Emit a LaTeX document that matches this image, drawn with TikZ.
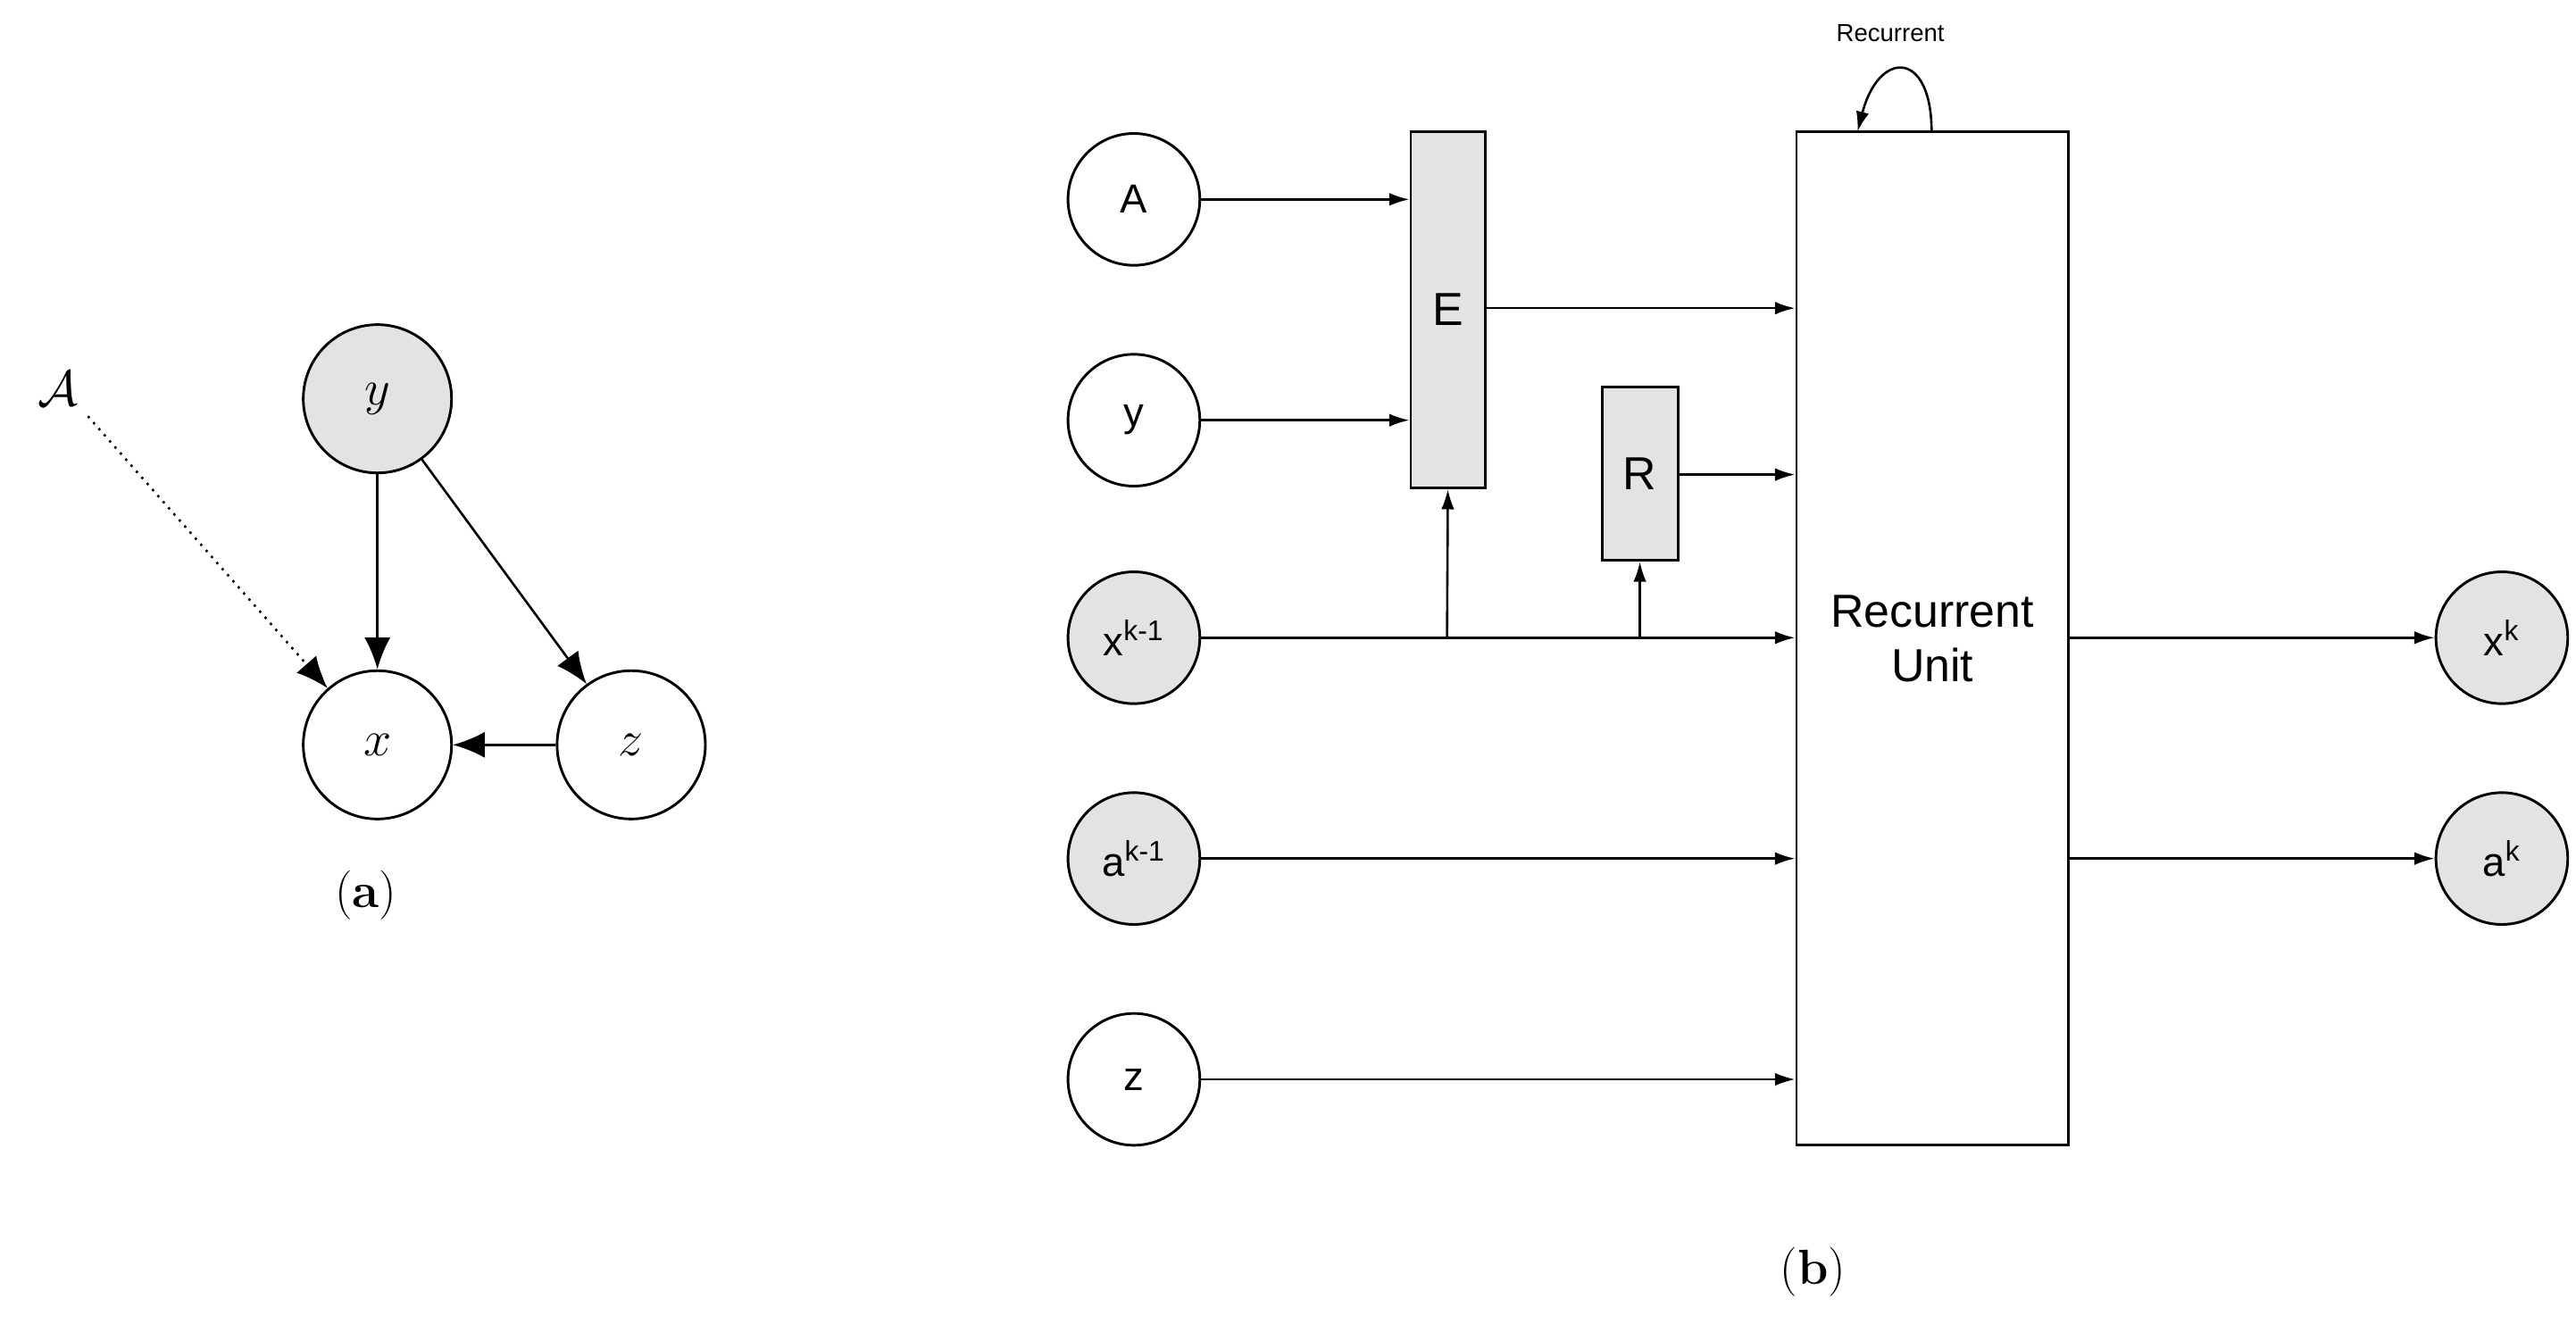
\documentclass[tikz,border=0pt]{standalone}
\usepackage{fontspec}
\newfontfamily\sans{Liberation Sans}
\usetikzlibrary{arrows.meta}
\begin{document}
\begin{tikzpicture}[x=0.02cm,y=-0.02cm,
  ca/.style={circle,draw,line width=0.9pt,minimum size=1.8cm,inner sep=0pt,font=\fontsize{17}{20}\selectfont},
  cb/.style={circle,draw,line width=0.9pt,minimum size=1.6cm,inner sep=0pt,font=\sans\fontsize{14}{16}\selectfont},
  gr/.style={fill=black!11},
  aa/.style={-{Latex[length=11pt,width=9pt]},line width=0.8pt},
  ab/.style={-{Latex[length=7pt,width=4.5pt]},line width=0.8pt},
  bx/.style={draw,line width=0.9pt,inner sep=0pt}]
\useasboundingbox (0,0) rectangle (1563,808);
% panel a
\node[ca,gr] (ya) at (229,242) {$y$};
\node[ca] (xa) at (229,452) {$x$};
\node[ca] (za) at (383,452) {$z$};
\node[font=\fontsize{18}{20}\selectfont] (Aa) at (35,236) {$\mathcal{A}$};
\draw[aa] (ya) -- (xa);
\draw[aa] (ya) -- (za);
\draw[aa] (za) -- (xa);
\draw[aa,dotted] (Aa.south east) -- (xa);
\node[font=\fontsize{17}{20}\selectfont] (la) at (222,543) {(\textbf{a})};
% panel b
\node[cb] (A) at (688,121) {A};
\node[cb] (yb) at (688,255) {y};
\node[cb,gr] (xk1) at (688,387) {x\textsuperscript{k-1}};
\node[cb,gr] (ak1) at (688,521) {a\textsuperscript{k-1}};
\node[cb] (zb) at (688,655) {z};
\node[bx,gr,minimum width=0.9cm,minimum height=4.32cm,font=\sans\fontsize{16}{18}\selectfont] (E) at (878.5,188) {E};
\node[bx,gr,minimum width=0.92cm,minimum height=2.1cm,font=\sans\fontsize{16}{18}\selectfont] (R) at (995,287.5) {R};
\node[bx,minimum width=3.3cm,minimum height=12.3cm,align=center,font=\sans\fontsize{16}{19}\selectfont] (RU) at (1172.5,387.5) {Recurrent\\Unit};
\node[cb,gr] (xk) at (1518,387) {x\textsuperscript{k}};
\node[cb,gr] (ak) at (1518,521) {a\textsuperscript{k}};
\draw[ab] (A) -- (A-|E.west);
\draw[ab] (yb) -- (yb-|E.west);
\draw[ab] (E.east|-0,187) -- (RU.west|-0,187);
\draw[ab] (R.east|-0,288) -- (RU.west|-0,288);
\draw[ab] (xk1) -- (xk1-|RU.west);
\coordinate (b1) at (878,387);
\coordinate (b2) at (995,387);
\draw[ab] (b1) -- (E.south);
\draw[ab] (b2) -- (R.south);
\draw[ab] (ak1) -- (ak1-|RU.west);
\draw[ab] (zb) -- (zb-|RU.west);
\draw[ab] (xk-|RU.east) -- (xk);
\draw[ab] (ak-|RU.east) -- (ak);
\coordinate (l1) at (1172,80);
\coordinate (l2) at (1127,80);
\draw[ab] (l1) .. controls (1172,30) and (1140,30) .. (l2);
\node[font=\sans\fontsize{8.5}{10}\selectfont] (rl) at (1147,20) {Recurrent};
\node[font=\fontsize{17}{20}\selectfont] (lb) at (1100,772) {(\textbf{b})};
\end{tikzpicture}
\end{document}
